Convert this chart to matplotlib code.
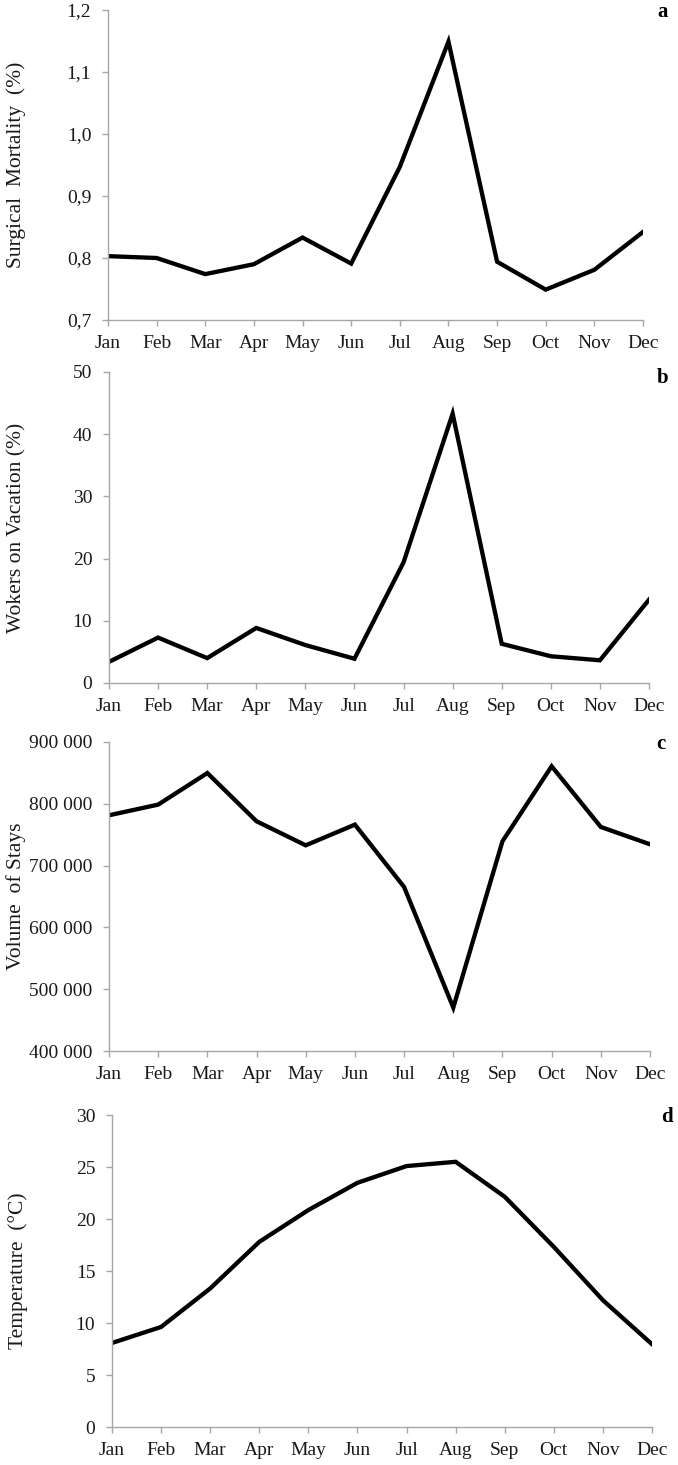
import matplotlib
matplotlib.use("Agg")
import matplotlib.pyplot as plt
from matplotlib.ticker import FixedLocator

months = ["Jan", "Feb", "Mar", "Apr", "May", "Jun", "Jul", "Aug", "Sep", "Oct", "Nov", "Dec"]

mortality = [0.803, 0.800, 0.774, 0.790, 0.833, 0.791, 0.947, 1.149, 0.794, 0.749, 0.781, 0.842]
mortality_ticks = [0.7, 0.8, 0.9, 1.0, 1.1, 1.2]
mortality_ticklabels = ["0,7", "0,8", "0,9", "1,0", "1,1", "1,2"]

vacation = [3.4, 7.3, 4.0, 8.85, 6.1, 3.9, 19.4, 43.3, 6.3, 4.3, 3.65, 13.4]
vacation_ticks = [0, 10, 20, 30, 40, 50]
vacation_ticklabels = ["0", "10", "20", "30", "40", "50"]

stays = [781400, 798700, 849800, 771700, 732800, 766300, 665400, 470200, 739300, 860700, 762500, 734500]
stays_ticks = [400000, 500000, 600000, 700000, 800000, 900000]
stays_ticklabels = ["400 000", "500 000", "600 000", "700 000", "800 000", "900 000"]

temperature = [8.08, 9.62, 13.32, 17.8, 20.86, 23.48, 25.09, 25.5, 22.14, 17.32, 12.19, 7.96]
temperature_ticks = [0, 5, 10, 15, 20, 25, 30]
temperature_ticklabels = ["0", "5", "10", "15", "20", "25", "30"]

ylabels = ["Surgical  Mortality  (%)", "Wokers on Vacation (%)", "Volume  of Stays", "Temperature  (\u00b0C)"]
letters = ["a", "b", "c", "d"]

W, H = 678, 1465
fig = plt.figure(figsize=(W / 100, H / 100), dpi=100)
plt.rcParams["font.family"] = ["Liberation Serif", "DejaVu Serif"]

# panel boxes in pixels: left, right, top, bottom
boxes = [(108, 643, 10, 320), (109, 649, 372, 683), (109, 650, 742, 1051), (112, 652, 1115, 1427)]
label_x = [26, 26, 26, 28]
letter_pos = [(663, 12), (663, 378), (661, 744), (667, 1117)]

series = [
    (mortality, mortality_ticks, mortality_ticklabels),
    (vacation, vacation_ticks, vacation_ticklabels),
    (stays, stays_ticks, stays_ticklabels),
    (temperature, temperature_ticks, temperature_ticklabels),
]

grey = "#a6a6a6"
for i, ((vals, ticks, tlabels), (l, r, t, b)) in enumerate(zip(series, boxes)):
    ax = fig.add_axes([l / W, 1 - b / H, (r - l) / W, (b - t) / H])
    x = list(range(len(months)))
    ax.plot(x, vals, color="black", lw=3.1, solid_joinstyle="miter")
    ax.set_xlim(0, len(months) - 1)
    ax.set_ylim(ticks[0], ticks[-1])
    ax.yaxis.set_major_locator(FixedLocator(ticks))
    ax.set_yticklabels(tlabels)
    ax.set_xticks(x)
    ax.set_xticklabels(months)
    for s in ["top", "right"]:
        ax.spines[s].set_visible(False)
    for s in ["left", "bottom"]:
        ax.spines[s].set_color(grey)
        ax.spines[s].set_linewidth(1.0)
    ax.tick_params(axis="both", colors=grey, labelcolor="#1a1a1a", labelsize=14, length=4, width=1.0)
    ax.tick_params(axis="y", pad=8)
    ax.tick_params(axis="x", pad=7)
    ax.set_ylabel(ylabels[i], fontsize=15.5, color="#1a1a1a")
    ax.yaxis.set_label_coords((label_x[i] - l) / (r - l), 0.5)
    ax.patch.set_alpha(0)
    lx, ly = letter_pos[i]
    fig.text(lx / W, 1 - ly / H, letters[i], fontsize=15, fontweight="bold", ha="center", va="center")

fig.savefig("out.png", dpi=100, facecolor="white")
